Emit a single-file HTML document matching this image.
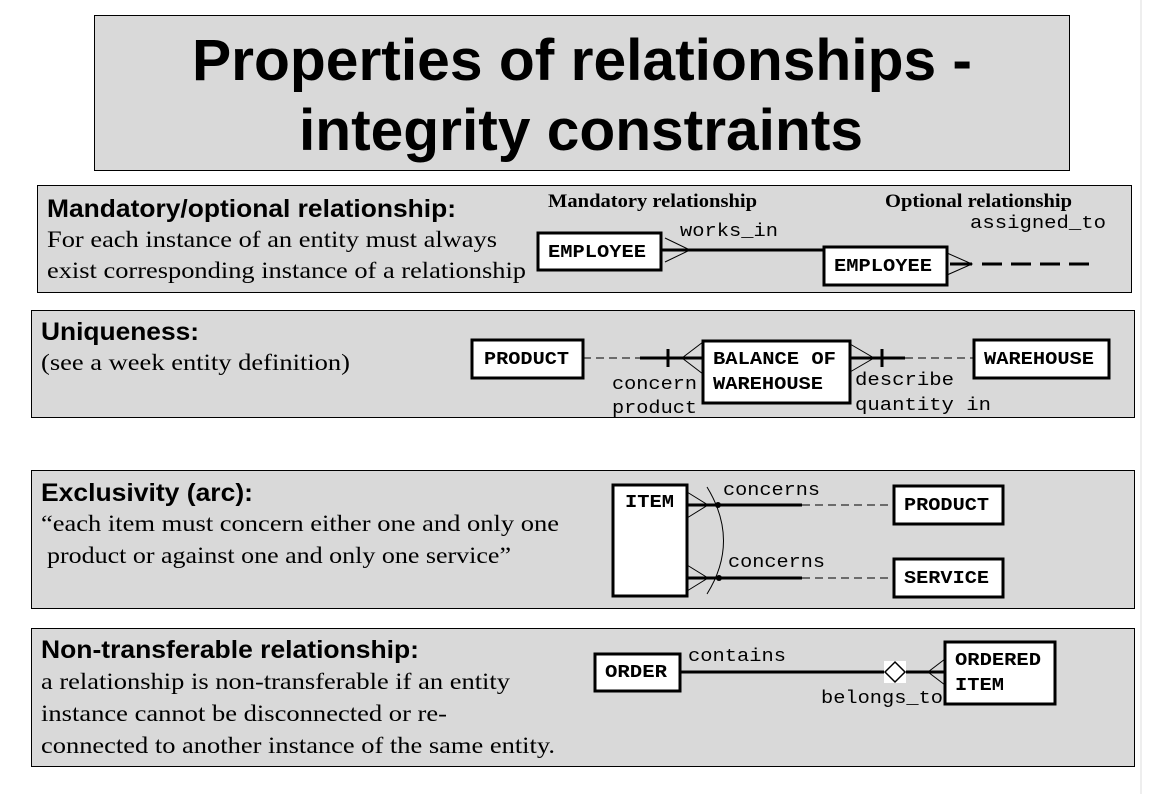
<!DOCTYPE html>
<html><head><meta charset="utf-8"><style>
html,body{margin:0;padding:0;background:#fff;}
svg{display:block;}
.t{font-family:"Liberation Sans",sans-serif;font-weight:bold;}
.s{font-family:"Liberation Serif",serif;font-size:23px;}
.m{font-family:"Liberation Mono",monospace;font-size:18px;}
.mb{font-family:"Liberation Mono",monospace;font-size:18px;font-weight:bold;}
.h{font-family:"Liberation Sans",sans-serif;font-weight:bold;font-size:25px;}
.e{fill:#fff;stroke:#000;stroke-width:3;}
</style></head><body>
<svg width="1149" height="794" viewBox="0 0 1149 794" xmlns="http://www.w3.org/2000/svg">
<rect x="0" y="0" width="1149" height="794" fill="#fff"/>
<line x1="1141" y1="0" x2="1141" y2="794" stroke="#ddd" stroke-width="1"/>
<!-- title -->
<rect x="94.5" y="15.5" width="975" height="155" fill="#d9d9d9" stroke="#000" stroke-width="1"/>
<text class="t" x="192" y="80" font-size="58" textLength="780" lengthAdjust="spacingAndGlyphs">Properties of relationships -</text>
<text class="t" x="299" y="150" font-size="58" textLength="564" lengthAdjust="spacingAndGlyphs">integrity constraints</text>

<!-- panel 1 -->
<rect x="37.5" y="185.5" width="1094" height="107" fill="#d9d9d9" stroke="#000"/>
<text class="h" x="47" y="217" textLength="409" lengthAdjust="spacingAndGlyphs">Mandatory/optional relationship:</text>
<text class="s" x="47" y="247" textLength="450" lengthAdjust="spacingAndGlyphs">For each instance of an entity must always</text>
<text class="s" x="47" y="278" textLength="479" lengthAdjust="spacingAndGlyphs">exist corresponding instance of a relationship</text>
<text x="548" y="207" font-family="Liberation Serif,serif" font-weight="bold" font-size="19" textLength="209" lengthAdjust="spacingAndGlyphs">Mandatory relationship</text>
<text x="885" y="207" font-family="Liberation Serif,serif" font-weight="bold" font-size="19" textLength="187" lengthAdjust="spacingAndGlyphs">Optional relationship</text>
<text class="m" x="680" y="236" textLength="98" lengthAdjust="spacingAndGlyphs">works_in</text>
<text class="m" x="970" y="228" textLength="136" lengthAdjust="spacingAndGlyphs">assigned_to</text>
<line x1="661" y1="250" x2="823" y2="250" stroke="#000" stroke-width="3"/>
<polyline points="665,238 690,250 665,262" fill="none" stroke="#000" stroke-width="1"/>
<rect class="e" x="538" y="233" width="123" height="37"/>
<text class="mb" x="548" y="257" textLength="98" lengthAdjust="spacingAndGlyphs">EMPLOYEE</text>
<rect class="e" x="824" y="247" width="123" height="38"/>
<text class="mb" x="834" y="271" textLength="98" lengthAdjust="spacingAndGlyphs">EMPLOYEE</text>
<polyline points="947,253 972,264 947,275" fill="none" stroke="#000" stroke-width="1"/>
<line x1="950" y1="264" x2="972" y2="264" stroke="#000" stroke-width="3"/>
<line x1="982" y1="264" x2="1092" y2="264" stroke="#000" stroke-width="3" stroke-dasharray="20,9"/>

<!-- panel 2 -->
<rect x="31.5" y="310.5" width="1103" height="107" fill="#d9d9d9" stroke="#000"/>
<text class="h" x="41" y="340" textLength="158" lengthAdjust="spacingAndGlyphs">Uniqueness:</text>
<text class="s" x="41" y="370" textLength="309" lengthAdjust="spacingAndGlyphs">(see a week entity definition)</text>
<line x1="583" y1="358" x2="640" y2="358" stroke="#000" stroke-width="1" stroke-dasharray="8,5"/>
<line x1="640" y1="358" x2="703" y2="358" stroke="#000" stroke-width="3"/>
<line x1="668" y1="349" x2="668" y2="367" stroke="#000" stroke-width="3"/>
<polyline points="703,342 682,358 703,374" fill="none" stroke="#000" stroke-width="1"/>
<rect class="e" x="472" y="340" width="111" height="38"/>
<text class="mb" x="484" y="364" textLength="85" lengthAdjust="spacingAndGlyphs">PRODUCT</text>
<rect class="e" x="703" y="341" width="147" height="62"/>
<text class="mb" x="713" y="364" textLength="123" lengthAdjust="spacingAndGlyphs">BALANCE OF</text>
<text class="mb" x="713" y="389" textLength="110" lengthAdjust="spacingAndGlyphs">WAREHOUSE</text>
<polyline points="850,344 874,358 850,372" fill="none" stroke="#000" stroke-width="1"/>
<line x1="850" y1="358" x2="905" y2="358" stroke="#000" stroke-width="3"/>
<line x1="882" y1="349" x2="882" y2="367" stroke="#000" stroke-width="3"/>
<line x1="905" y1="358" x2="973" y2="358" stroke="#000" stroke-width="1" stroke-dasharray="8,5"/>
<rect class="e" x="974" y="340" width="135" height="38"/>
<text class="mb" x="984" y="364" textLength="110" lengthAdjust="spacingAndGlyphs">WAREHOUSE</text>
<text class="m" x="612" y="389" textLength="85" lengthAdjust="spacingAndGlyphs">concern</text>
<text class="m" x="612" y="413" textLength="85" lengthAdjust="spacingAndGlyphs">product</text>
<text class="m" x="855" y="385" textLength="99" lengthAdjust="spacingAndGlyphs">describe</text>
<text class="m" x="855" y="410" textLength="136" lengthAdjust="spacingAndGlyphs">quantity in</text>

<!-- panel 3 -->
<rect x="31.5" y="470.5" width="1103" height="138" fill="#d9d9d9" stroke="#000"/>
<text class="h" x="41" y="501" textLength="212" lengthAdjust="spacingAndGlyphs">Exclusivity (arc):</text>
<text class="s" x="41" y="531" textLength="518" lengthAdjust="spacingAndGlyphs">“each item must concern either one and only one</text>
<text class="s" x="47" y="563" textLength="464" lengthAdjust="spacingAndGlyphs">product or against one and only one service”</text>
<rect class="e" x="613" y="485" width="74" height="111"/>
<text class="mb" x="625" y="507" textLength="49" lengthAdjust="spacingAndGlyphs">ITEM</text>
<polyline points="687,492 708,505 687,518" fill="none" stroke="#000" stroke-width="1"/>
<polyline points="687,565 708,578 687,591" fill="none" stroke="#000" stroke-width="1"/>
<line x1="687" y1="505" x2="802" y2="505" stroke="#000" stroke-width="3"/>
<line x1="687" y1="578" x2="802" y2="578" stroke="#000" stroke-width="3"/>
<line x1="802" y1="505" x2="893" y2="505" stroke="#000" stroke-width="1" stroke-dasharray="8,5"/>
<line x1="802" y1="578" x2="893" y2="578" stroke="#000" stroke-width="1" stroke-dasharray="8,5"/>
<path d="M707,487 Q740,541 707,594" fill="none" stroke="#000" stroke-width="1"/>
<circle cx="718" cy="505" r="3" fill="#000"/>
<circle cx="719" cy="578" r="3" fill="#000"/>
<rect class="e" x="894" y="486" width="109" height="38"/>
<text class="mb" x="904" y="510" textLength="85" lengthAdjust="spacingAndGlyphs">PRODUCT</text>
<rect class="e" x="894" y="559" width="109" height="38"/>
<text class="mb" x="904" y="583" textLength="85" lengthAdjust="spacingAndGlyphs">SERVICE</text>
<text class="m" x="723" y="495" textLength="97" lengthAdjust="spacingAndGlyphs">concerns</text>
<text class="m" x="728" y="567" textLength="97" lengthAdjust="spacingAndGlyphs">concerns</text>

<!-- panel 4 -->
<rect x="31.5" y="628.5" width="1103" height="138" fill="#d9d9d9" stroke="#000"/>
<text class="h" x="41" y="658" textLength="378" lengthAdjust="spacingAndGlyphs">Non-transferable relationship:</text>
<text class="s" x="41" y="689" textLength="469" lengthAdjust="spacingAndGlyphs">a relationship is non-transferable if an entity</text>
<text class="s" x="41" y="721" textLength="406" lengthAdjust="spacingAndGlyphs">instance cannot be disconnected or re-</text>
<text class="s" x="41" y="753" textLength="514" lengthAdjust="spacingAndGlyphs">connected to another instance of the same entity.</text>
<line x1="680" y1="672" x2="945" y2="672" stroke="#000" stroke-width="3"/>
<rect x="884" y="661" width="22" height="22" fill="#fff"/>
<polygon points="895,662 905,672 895,682 885,672" fill="#fff" stroke="#000" stroke-width="1.5"/>
<polyline points="945,659 928,672 945,685" fill="none" stroke="#000" stroke-width="1"/>
<rect class="e" x="595" y="654" width="85" height="37"/>
<text class="mb" x="605" y="677" textLength="62" lengthAdjust="spacingAndGlyphs">ORDER</text>
<text class="m" x="688" y="661" textLength="98" lengthAdjust="spacingAndGlyphs">contains</text>
<text class="m" x="821" y="703" textLength="122" lengthAdjust="spacingAndGlyphs">belongs_to</text>
<rect class="e" x="945" y="642" width="110" height="62"/>
<text class="mb" x="955" y="665" textLength="86" lengthAdjust="spacingAndGlyphs">ORDERED</text>
<text class="mb" x="955" y="690" textLength="49" lengthAdjust="spacingAndGlyphs">ITEM</text>
</svg>
</body></html>
